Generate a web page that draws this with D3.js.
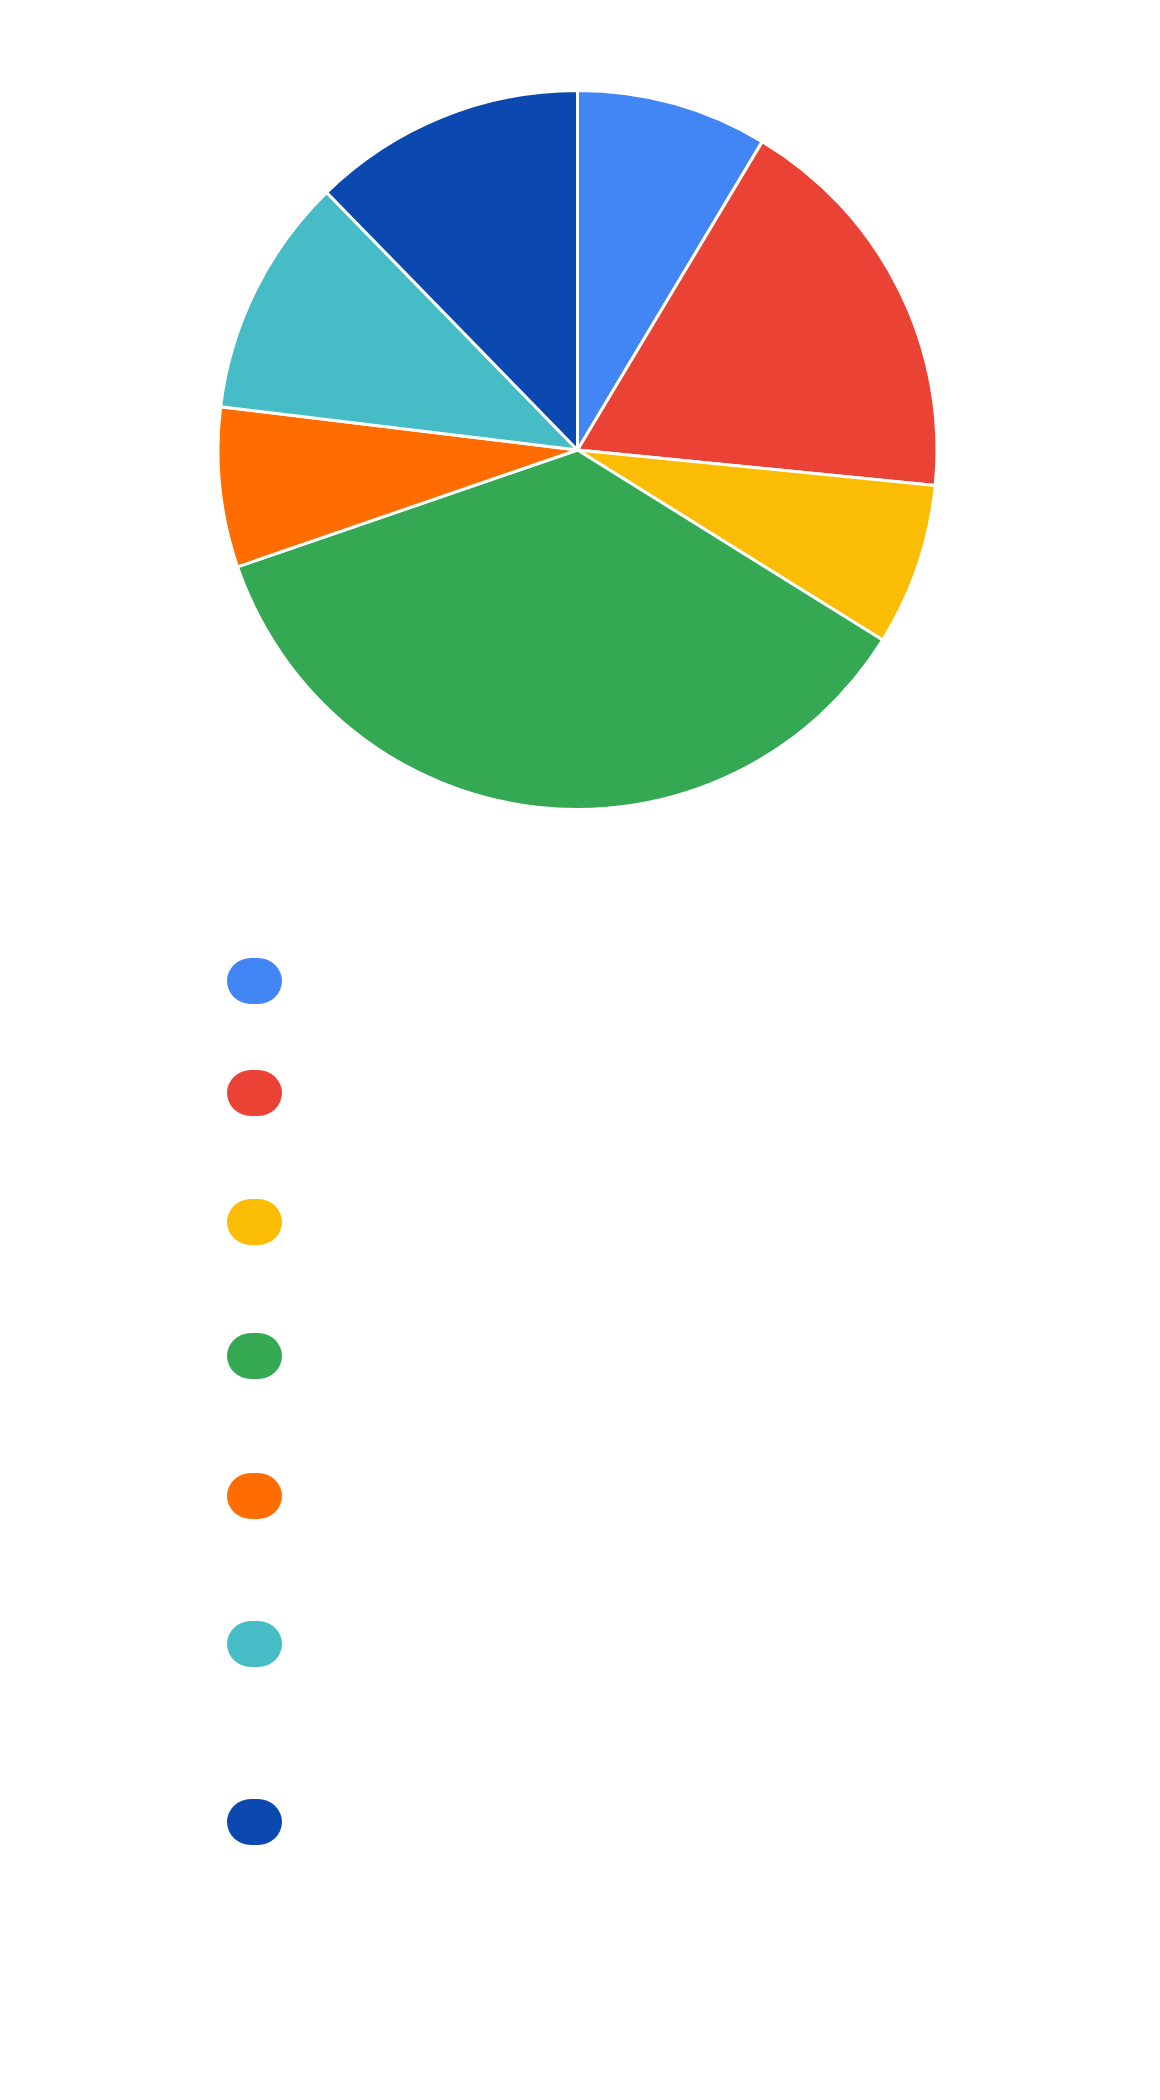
<!DOCTYPE html>
<html>
<head>
<meta charset="utf-8">
<script src="https://cdn.jsdelivr.net/npm/d3@7"></script>
<style>
  html, body { margin: 0; padding: 0; background: #ffffff; }
  svg { display: block; }
</style>
</head>
<body>
<svg id="chart" width="1160" height="2100"></svg>
<script>
// ---- data ----
const categories = ["A", "B", "C", "D", "E", "F", "G"];
const values = [8.6, 18.0, 7.3, 35.9, 7.2, 10.8, 12.3];
const colors = ["#4285F4", "#EA4335", "#FBBC04", "#34A853", "#FF6D01", "#46BDC6", "#0B48AF"];
// legend spacing (layout): gaps between successive legend entries
const legendGaps = [112, 129, 134, 140, 148, 178];

// ---- layout ----
const W = 1160, H = 2100;
const cx = 577.5, cy = 450, R = 359.5;
const legendX = 227, legendY0 = 981, markerW = 55, markerH = 46;

const svg = d3.select("#chart");
svg.append("rect").attr("width", W).attr("height", H).attr("fill", "#fff");

const data = categories.map((c, i) => ({ name: c, value: values[i], color: colors[i] }));

const pie = d3.pie().value(d => d.value).sort(null);
const arc = d3.arc().innerRadius(0).outerRadius(R);

const g = svg.append("g").attr("transform", `translate(${cx},${cy})`);
g.selectAll("path")
  .data(pie(data))
  .join("path")
  .attr("d", arc)
  .attr("fill", d => d.data.color)
  .attr("stroke", "#ffffff")
  .attr("stroke-width", 3)
  .attr("stroke-linejoin", "round");

// legend markers
const ys = [legendY0];
legendGaps.forEach((gp, i) => ys.push(ys[i] + gp));
const lg = svg.append("g");
lg.selectAll("rect")
  .data(data)
  .join("rect")
  .attr("x", legendX)
  .attr("y", (d, i) => ys[i] - markerH / 2)
  .attr("width", markerW)
  .attr("height", markerH)
  .attr("rx", 24)
  .attr("ry", 23)
  .attr("fill", d => d.color);
</script>
</body>
</html>
